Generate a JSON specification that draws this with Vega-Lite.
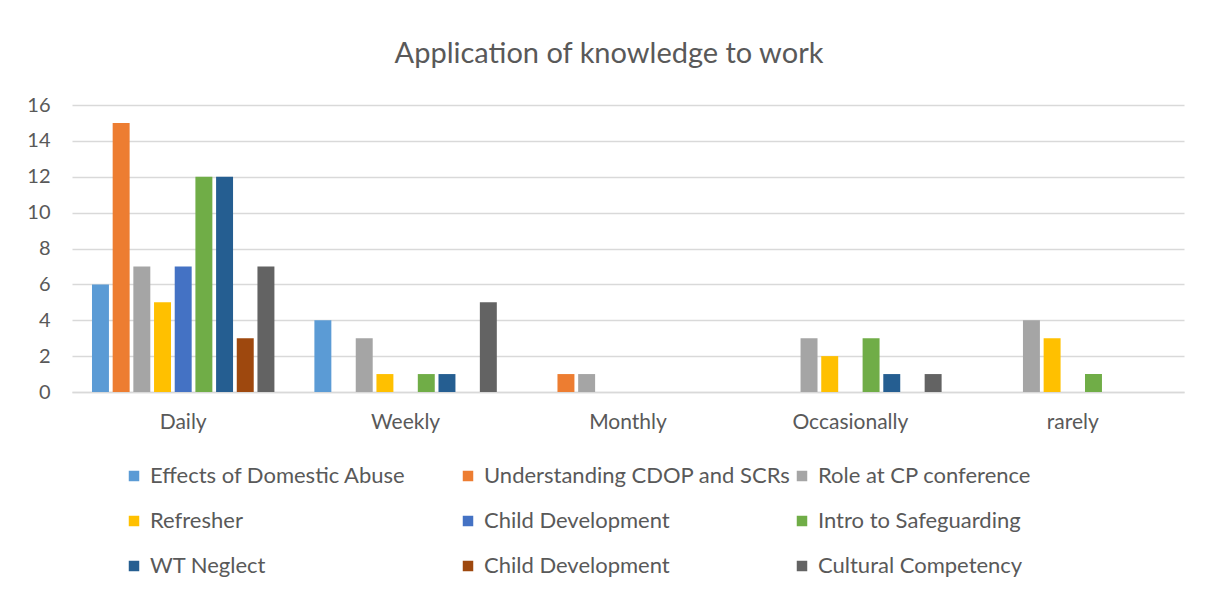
{
  "$schema": "https://vega.github.io/schema/vega-lite/v6.json",
  "width": 1112,
  "height": 287,
  "autosize": {"type": "none"},
  "padding": {"left": 72, "top": 105, "right": 21, "bottom": 200},
  "background": "white",
  "title": {
    "text": "Application of knowledge to work",
    "font": "Lato",
    "fontSize": 29,
    "fontWeight": "normal",
    "color": "#595959",
    "anchor": "middle",
    "frame": "group",
    "dx": -19,
    "offset": 26
  },
  "data": {
    "values": [
      {"freq": "Daily", "series": "Effects of Domestic Abuse", "count": 6},
      {"freq": "Daily", "series": "Understanding CDOP and SCRs", "count": 15},
      {"freq": "Daily", "series": "Role at CP conference", "count": 7},
      {"freq": "Daily", "series": "Refresher", "count": 5},
      {"freq": "Daily", "series": "Child Development", "count": 7},
      {"freq": "Daily", "series": "Intro to Safeguarding", "count": 12},
      {"freq": "Daily", "series": "WT Neglect", "count": 12},
      {"freq": "Daily", "series": "Child Development #2", "count": 3},
      {"freq": "Daily", "series": "Cultural Competency", "count": 7},
      {"freq": "Weekly", "series": "Effects of Domestic Abuse", "count": 4},
      {"freq": "Weekly", "series": "Understanding CDOP and SCRs", "count": 0},
      {"freq": "Weekly", "series": "Role at CP conference", "count": 3},
      {"freq": "Weekly", "series": "Refresher", "count": 1},
      {"freq": "Weekly", "series": "Child Development", "count": 0},
      {"freq": "Weekly", "series": "Intro to Safeguarding", "count": 1},
      {"freq": "Weekly", "series": "WT Neglect", "count": 1},
      {"freq": "Weekly", "series": "Child Development #2", "count": 0},
      {"freq": "Weekly", "series": "Cultural Competency", "count": 5},
      {"freq": "Monthly", "series": "Effects of Domestic Abuse", "count": 0},
      {"freq": "Monthly", "series": "Understanding CDOP and SCRs", "count": 1},
      {"freq": "Monthly", "series": "Role at CP conference", "count": 1},
      {"freq": "Monthly", "series": "Refresher", "count": 0},
      {"freq": "Monthly", "series": "Child Development", "count": 0},
      {"freq": "Monthly", "series": "Intro to Safeguarding", "count": 0},
      {"freq": "Monthly", "series": "WT Neglect", "count": 0},
      {"freq": "Monthly", "series": "Child Development #2", "count": 0},
      {"freq": "Monthly", "series": "Cultural Competency", "count": 0},
      {"freq": "Occasionally", "series": "Effects of Domestic Abuse", "count": 0},
      {"freq": "Occasionally", "series": "Understanding CDOP and SCRs", "count": 0},
      {"freq": "Occasionally", "series": "Role at CP conference", "count": 3},
      {"freq": "Occasionally", "series": "Refresher", "count": 2},
      {"freq": "Occasionally", "series": "Child Development", "count": 0},
      {"freq": "Occasionally", "series": "Intro to Safeguarding", "count": 3},
      {"freq": "Occasionally", "series": "WT Neglect", "count": 1},
      {"freq": "Occasionally", "series": "Child Development #2", "count": 0},
      {"freq": "Occasionally", "series": "Cultural Competency", "count": 1},
      {"freq": "rarely", "series": "Effects of Domestic Abuse", "count": 0},
      {"freq": "rarely", "series": "Understanding CDOP and SCRs", "count": 0},
      {"freq": "rarely", "series": "Role at CP conference", "count": 4},
      {"freq": "rarely", "series": "Refresher", "count": 3},
      {"freq": "rarely", "series": "Child Development", "count": 0},
      {"freq": "rarely", "series": "Intro to Safeguarding", "count": 1},
      {"freq": "rarely", "series": "WT Neglect", "count": 0},
      {"freq": "rarely", "series": "Child Development #2", "count": 0},
      {"freq": "rarely", "series": "Cultural Competency", "count": 0}
    ]
  },
  "mark": {"type": "bar"},
  "encoding": {
    "x": {
      "field": "freq",
      "type": "nominal",
      "sort": ["Daily", "Weekly", "Monthly", "Occasionally", "rarely"],
      "scale": {"paddingInner": 0.163, "paddingOuter": 0.0815},
      "axis": {
        "title": null,
        "labelAngle": 0,
        "labelFont": "Lato",
        "labelFontSize": 21,
        "labelColor": "#595959",
        "labelPadding": 19,
        "ticks": false,
        "domainColor": "#d9d9d9",
        "domainWidth": 1.5
      }
    },
    "xOffset": {
      "field": "series",
      "type": "nominal",
      "scale": {
        "domain": ["Effects of Domestic Abuse", "Understanding CDOP and SCRs", "Role at CP conference", "Refresher", "Child Development", "Intro to Safeguarding", "WT Neglect", "Child Development #2", "Cultural Competency"],
        "paddingInner": 0.18,
        "paddingOuter": 0.09
      }
    },
    "y": {
      "field": "count",
      "type": "quantitative",
      "scale": {"domain": [0, 16]},
      "axis": {
        "title": null,
        "values": [0, 2, 4, 6, 8, 10, 12, 14, 16],
        "labelFont": "Lato",
        "labelFontSize": 20,
        "labelColor": "#595959",
        "labelPadding": 22,
        "ticks": false,
        "domain": false,
        "gridColor": "#d9d9d9",
        "gridWidth": 1.5
      }
    },
    "color": {
      "field": "series",
      "type": "nominal",
      "scale": {
        "domain": ["Effects of Domestic Abuse", "Understanding CDOP and SCRs", "Role at CP conference", "Refresher", "Child Development", "Intro to Safeguarding", "WT Neglect", "Child Development #2", "Cultural Competency"],
        "range": ["#5B9BD5", "#ED7D31", "#A5A5A5", "#FFC000", "#4472C4", "#70AD47", "#255E91", "#9E480E", "#636363"]
      },
      "legend": {
        "title": null,
        "orient": "none",
        "legendX": 51,
        "legendY": 360,
        "direction": "horizontal",
        "columns": 3,
        "gridAlign": "all",
        "columnPadding": -8,
        "rowPadding": 23,
        "symbolType": "square",
        "symbolSize": 110,
        "symbolStrokeWidth": 0,
        "symbolOffset": 0,
        "labelOffset": 5,
        "labelFont": "Lato",
        "labelFontSize": 22,
        "labelColor": "#595959",
        "labelLimit": 400,
        "labelExpr": "replace(datum.label, ' #2', '')"
      }
    }
  },
  "config": {"view": {"stroke": null}}
}
